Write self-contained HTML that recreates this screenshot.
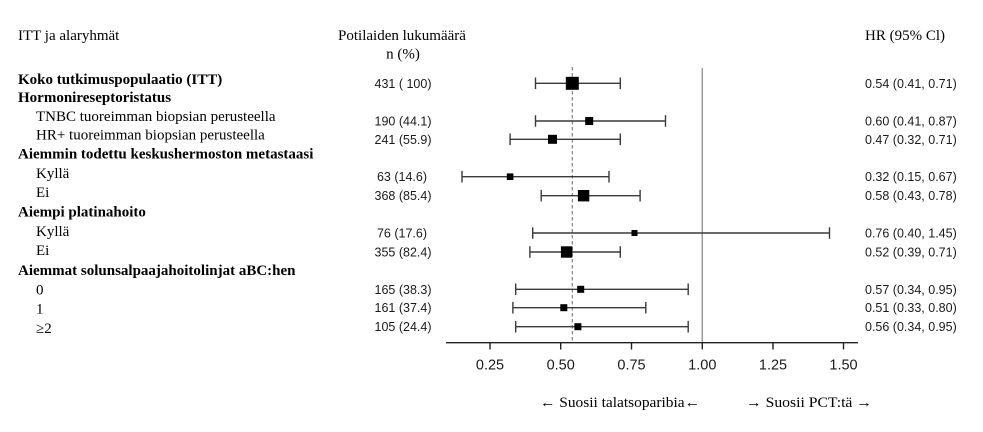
<!DOCTYPE html>
<html>
<head>
<meta charset="utf-8">
<style>
  html,body{margin:0;padding:0;background:#fff;}
  svg{display:block;}
  .serif{font-family:"Liberation Serif","Times New Roman",serif;font-size:15px;fill:#000;}
  .b{font-weight:bold;}
  .sans{font-family:"Liberation Sans",Arial,sans-serif;font-size:12.5px;fill:#1a1a1a;}
  .tick{font-family:"Liberation Sans",Arial,sans-serif;font-size:14.5px;fill:#1a1a1a;}
</style>
</head>
<body>
<svg width="983" height="432" viewBox="0 0 983 432" xmlns="http://www.w3.org/2000/svg">
  <rect width="983" height="432" fill="#fff"/>

  <!-- Headers -->
  <text class="serif" x="18" y="40">ITT ja alaryhmät</text>
  <text class="serif" x="402" y="40" text-anchor="middle">Potilaiden lukumäärä</text>
  <text class="serif" x="403" y="58.5" text-anchor="middle">n (%)</text>
  <text class="serif" x="865" y="40">HR (95% Cl)</text>

  <!-- Left labels -->
  <text class="serif b" x="18" y="84">Koko tutkimuspopulaatio (ITT)</text>
  <text class="serif b" x="18" y="102">Hormonireseptoristatus</text>
  <text class="serif" x="36" y="121">TNBC tuoreimman biopsian perusteella</text>
  <text class="serif" x="36" y="139.5">HR+ tuoreimman biopsian perusteella</text>
  <text class="serif b" x="18" y="158.5">Aiemmin todettu keskushermoston metastaasi</text>
  <text class="serif" x="36" y="178">Kyllä</text>
  <text class="serif" x="36" y="197">Ei</text>
  <text class="serif b" x="18" y="216.5">Aiempi platinahoito</text>
  <text class="serif" x="36" y="236">Kyllä</text>
  <text class="serif" x="36" y="255">Ei</text>
  <text class="serif b" x="18" y="275">Aiemmat solunsalpaajahoitolinjat aBC:hen</text>
  <text class="serif" x="36" y="294.5">0</text>
  <text class="serif" x="36" y="313.5">1</text>
  <text class="serif" x="36" y="333">≥2</text>

  <!-- Middle numbers -->
  <g class="sans" text-anchor="middle">
    <text x="403" y="87.8">431 ( 100)</text>
    <text x="403" y="125.5">190 (44.1)</text>
    <text x="403" y="143.8">241 (55.9)</text>
    <text x="402" y="181.2">63 (14.6)</text>
    <text x="403" y="200.2">368 (85.4)</text>
    <text x="402" y="237.5">76 (17.6)</text>
    <text x="403" y="256.5">355 (82.4)</text>
    <text x="403" y="293.8">165 (38.3)</text>
    <text x="403" y="312.2">161 (37.4)</text>
    <text x="403" y="331.2">105 (24.4)</text>
  </g>

  <!-- Right HR values -->
  <g class="sans">
    <text x="865" y="87.8">0.54 (0.41, 0.71)</text>
    <text x="865" y="125.5">0.60 (0.41, 0.87)</text>
    <text x="865" y="143.8">0.47 (0.32, 0.71)</text>
    <text x="865" y="181.2">0.32 (0.15, 0.67)</text>
    <text x="865" y="200.2">0.58 (0.43, 0.78)</text>
    <text x="865" y="237.5">0.76 (0.40, 1.45)</text>
    <text x="865" y="256.5">0.52 (0.39, 0.71)</text>
    <text x="865" y="293.8">0.57 (0.34, 0.95)</text>
    <text x="865" y="312.2">0.51 (0.33, 0.80)</text>
    <text x="865" y="331.2">0.56 (0.34, 0.95)</text>
  </g>

  <!-- Reference lines -->
  <line x1="702.3" y1="68" x2="702.3" y2="342.7" stroke="#9a9a9a" stroke-width="1.5"/>
  <line x1="572.3" y1="67" x2="572.3" y2="342.7" stroke="#777" stroke-width="1.1" stroke-dasharray="3.5,2.5"/>

  <!-- CI lines -->
  <g stroke="#3a3a3a" stroke-width="1.4" fill="none">
    <path d="M535.5 83.3H620.3M535.5 77.5V89.1M620.3 77.5V89.1"/>
    <path d="M535.5 121H665.5M535.5 115.2V126.8M665.5 115.2V126.8"/>
    <path d="M510.1 139.3H620.3M510.1 133.5V145.1M620.3 133.5V145.1"/>
    <path d="M462 176.7H609M462 170.9V182.5M609 170.9V182.5"/>
    <path d="M541.2 195.7H640.1M541.2 189.9V201.5M640.1 189.9V201.5"/>
    <path d="M532.7 233H829.5M532.7 227.2V238.8M829.5 227.2V238.8"/>
    <path d="M529.9 252H620.3M529.9 246.2V257.8M620.3 246.2V257.8"/>
    <path d="M515.7 289.3H688.2M515.7 283.5V295.1M688.2 283.5V295.1"/>
    <path d="M512.9 307.7H645.8M512.9 301.9V313.5M645.8 301.9V313.5"/>
    <path d="M515.7 326.7H688.2M515.7 320.9V332.5M688.2 320.9V332.5"/>
  </g>

  <!-- Squares -->
  <g fill="#000">
    <rect x="565.8" y="76.8" width="13" height="13"/>
    <rect x="585.2" y="117" width="8" height="8"/>
    <rect x="548" y="134.8" width="9" height="9"/>
    <rect x="506.8" y="173.4" width="6.6" height="6.6"/>
    <rect x="577.9" y="190" width="11.4" height="11.4"/>
    <rect x="631.5" y="230" width="6" height="6"/>
    <rect x="560.9" y="246.3" width="11.4" height="11.4"/>
    <rect x="577.2" y="285.8" width="7" height="7"/>
    <rect x="560.3" y="304.2" width="7" height="7"/>
    <rect x="574.4" y="323.2" width="7" height="7"/>
  </g>

  <!-- Axis -->
  <g stroke="#222" stroke-width="1.4">
    <line x1="446" y1="342.7" x2="858" y2="342.7"/>
    <line x1="490" y1="342.7" x2="490" y2="349.5"/>
    <line x1="560.7" y1="342.7" x2="560.7" y2="349.5"/>
    <line x1="631.5" y1="342.7" x2="631.5" y2="349.5"/>
    <line x1="702.3" y1="342.7" x2="702.3" y2="349.5"/>
    <line x1="773" y1="342.7" x2="773" y2="349.5"/>
    <line x1="843.5" y1="342.7" x2="843.5" y2="349.5"/>
  </g>
  <g class="tick" text-anchor="middle">
    <text x="490" y="369.5">0.25</text>
    <text x="560.7" y="369.5">0.50</text>
    <text x="631.5" y="369.5">0.75</text>
    <text x="702.3" y="369.5">1.00</text>
    <text x="773" y="369.5">1.25</text>
    <text x="843.5" y="369.5">1.50</text>
  </g>

  <!-- Bottom labels -->
  <text class="serif" x="540" y="407" textLength="160" lengthAdjust="spacingAndGlyphs">← Suosii talatsoparibia←</text>
  <text class="serif" x="746" y="407" textLength="126" lengthAdjust="spacingAndGlyphs">→ Suosii PCT:tä →</text>
</svg>
</body>
</html>
